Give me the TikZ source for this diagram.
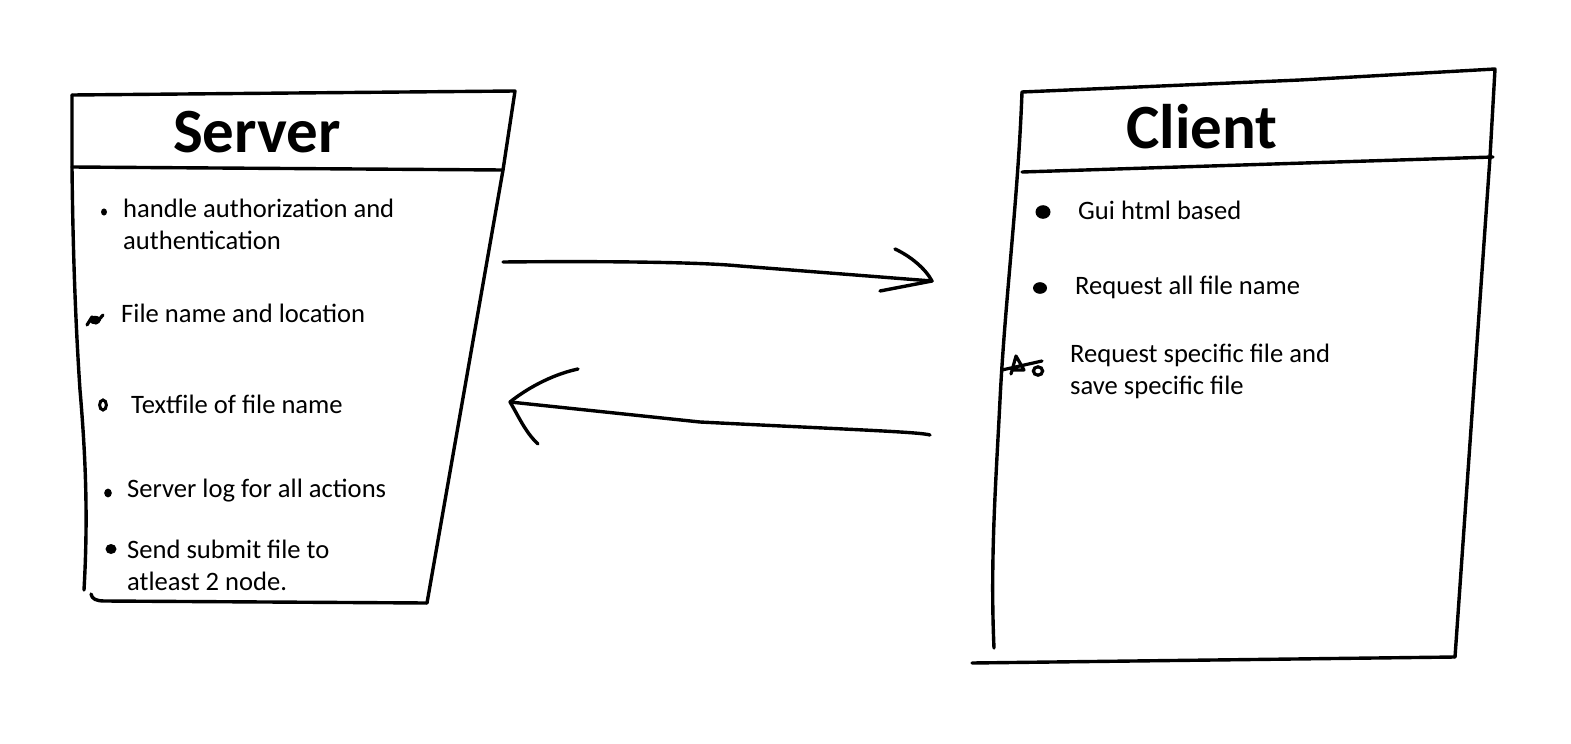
\documentclass[tikz,border=0pt]{standalone}
\usepackage{fontspec}
\setmainfont{Carlito}
\begin{document}
\begin{tikzpicture}[x=1pt,y=-1pt,
  pen/.style={line width=3.4pt,line cap=round,line join=round},
  item/.style={anchor=base west,inner sep=0pt,align=left,font=\fontsize{26.6}{32}\selectfont},
  title/.style={anchor=base,inner sep=0pt,font=\fontsize{63}{70}\selectfont\bfseries},
  blob/.style={fill=black}]
\useasboundingbox (0,0) rectangle (1571,744);

% ---------- Server box ----------
\draw[pen] (72,95) -- (515,91) -- (503,170) -- (427,603);
\draw[pen] (72,167) -- (503,170);
\draw[pen] (72,95) -- (72,167) .. controls (73,260) and (76,330) .. (80,390)
  .. controls (86,460) and (88,520) .. (84,590);
\draw[pen] (91,594) .. controls (92,599) and (96,601) .. (105,601) -- (427,603);

% two-line items are placed by the baseline of their last line
\node[title] (srv) at (257,152) {Server};
\node[item] (s1) at (123,249) {handle authorization and\\authentication};
\node[item] (s2) at (121,322) {File name and location};
\node[item] (s3) at (131,413) {Textfile of file name};
\node[item] (s4) at (127,497) {Server log for all actions};
\node[item] (s5) at (127,590) {Send submit file to\\atleast 2 node.};

% bullets
\fill[blob] (104,212) ellipse (3 and 3.6);
\draw[line width=3.2pt,line cap=round,line join=round] (87,325) -- (92,317) -- (96,323) -- (103,315);
\fill[blob] (95,320) ellipse (6 and 4.2);
\draw[line width=3pt] (103,405) ellipse (3.4 and 5);
\fill[blob] (108,493) ellipse (3.8 and 4.4);
\fill[blob] (111,549) ellipse (5.5 and 5);

% ---------- Client box ----------
\draw[pen] (1022,92) -- (1300,80) -- (1495,69) -- (1490,157) -- (1455,657);
\draw[pen] (1022,172) -- (1493,157);
\draw[pen] (1022,92) .. controls (1018,200) and (1005,300) .. (1000,400)
  .. controls (996,480) and (990,560) .. (994,648);
\draw[pen] (972,663) -- (1455,657);

\node[title] (cli) at (1202,148) {Client};
\node[item] (c1) at (1078,219) {Gui html based};
\node[item] (c2) at (1075,294) {Request all file name};
\node[item] (c3) at (1070,394) {Request specific file and\\save specific file};

% bullets
\fill[blob] (1043,212) ellipse (7.5 and 6.8);
\fill[blob] (1040,288) ellipse (7 and 5.8);
\draw[line width=3.2pt,line cap=round,line join=round]
  (1002,370) -- (1042,361)
  (1011,374) -- (1016,356) -- (1024,370) -- (1013,370);
\draw[line width=3.2pt] (1038,371) ellipse (4.6 and 4.2);

% ---------- connectors ----------
\coordinate (a1) at (503,262);
\coordinate (a2) at (932,281);
\coordinate (b1) at (930,435);
\coordinate (b2) at (510,402);
\draw[pen] (a1) .. controls (600,261) and (700,262) .. (740,266) -- (a2);
\draw[pen] (895,249) .. controls (910,256) and (925,268) .. (a2) -- (880,291);
\draw[pen] (b1) .. controls (920,432) and (860,430) .. (700,422) -- (b2);
\draw[pen] (578,369) .. controls (550,375) and (525,390) .. (b2)
  .. controls (518,415) and (525,432) .. (538,444);
\end{tikzpicture}
\end{document}
